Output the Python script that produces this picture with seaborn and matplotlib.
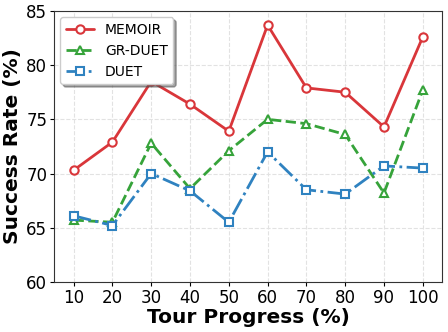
import matplotlib
matplotlib.use('Agg')
import matplotlib.pyplot as plt
import seaborn as sns
import pandas as pd

progress = [10, 20, 30, 40, 50, 60, 70, 80, 90, 100]
memoir = [70.3, 72.9, 78.5, 76.4, 73.9, 83.7, 77.9, 77.5, 74.3, 82.6]
gr_duet = [65.7, 65.5, 72.8, 68.6, 72.1, 75.0, 74.6, 73.6, 68.2, 77.7]
duet = [66.1, 65.2, 70.0, 68.4, 65.5, 72.0, 68.5, 68.1, 70.7, 70.5]

series = ['MEMOIR', 'GR-DUET', 'DUET']
colors = {'MEMOIR': '#d9363a', 'GR-DUET': '#36a33a', 'DUET': '#2f82c0'}
markers = {'MEMOIR': 'o', 'GR-DUET': '^', 'DUET': 's'}
styles = {'MEMOIR': '-', 'GR-DUET': '--', 'DUET': '-.'}

df = pd.DataFrame({'progress': progress * 3,
                   'rate': memoir + gr_duet + duet,
                   'method': [s for s in series for _ in progress]})

sns.set_style('ticks')
plt.rcParams['font.family'] = ['DejaVu Sans']
plt.rcParams['text.color'] = 'black'
plt.rcParams['axes.labelcolor'] = 'black'
plt.rcParams['xtick.color'] = 'black'
plt.rcParams['ytick.color'] = 'black'

fig, ax = plt.subplots(figsize=(4.48, 3.32), dpi=100)
for name in series:
    sub = df[df['method'] == name]
    sns.lineplot(data=sub, x='progress', y='rate', ax=ax, label=name,
                 color=colors[name], linestyle=styles[name], linewidth=2,
                 marker=markers[name], markersize=6, markerfacecolor='white',
                 markeredgecolor=colors[name], markeredgewidth=1.5)

ax.set_xlim(5, 105)
ax.set_ylim(60, 85)
ax.set_xticks(progress)
ax.set_yticks([60, 65, 70, 75, 80, 85])
ax.tick_params(labelsize=12, length=3, pad=2)
ax.grid(True, linestyle='--', color='#e2e2e2', linewidth=0.8)
ax.set_xlabel('Tour Progress (%)', fontsize=14.5, fontweight='bold', labelpad=1)
ax.set_ylabel('Success Rate (%)', fontsize=14.5, fontweight='bold', labelpad=3)
for sp in ax.spines.values():
    sp.set_color('#333333')

leg = ax.legend(loc='upper left', fontsize=10, frameon=True, shadow=True,
                fancybox=True, borderaxespad=0.45)
leg.get_frame().set_edgecolor('#cccccc')

fig.subplots_adjust(left=0.121, right=0.987, top=0.967, bottom=0.151)
plt.savefig('out.png', dpi=100)
